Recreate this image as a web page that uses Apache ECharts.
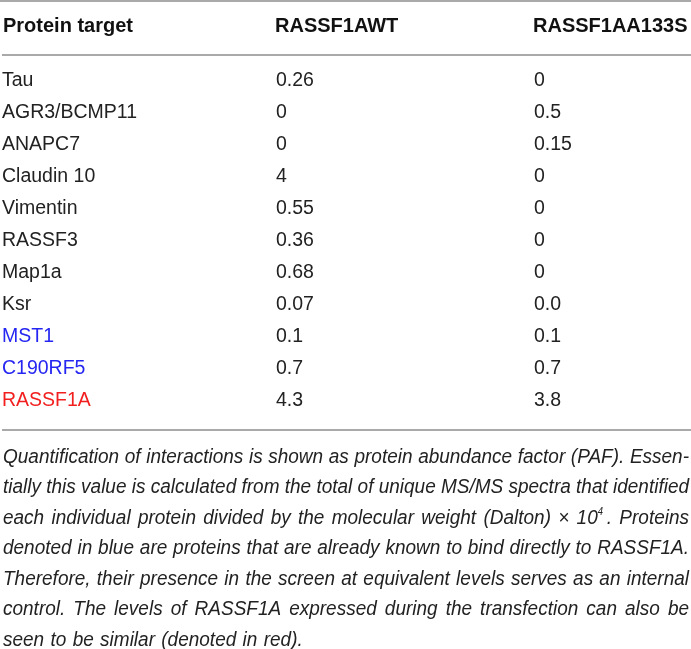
<!DOCTYPE html>
<html>
<head>
<meta charset="utf-8">
<script src="https://cdn.jsdelivr.net/npm/echarts@6/dist/echarts.min.js"></script>
<style>
  html, body { margin: 0; padding: 0; background: #fff; }
  #container { width: 691px; height: 649px; }
</style>
</head>
<body>
<div id="container"></div>
<script>
// table content
var headers = ["Protein target", "RASSF1AWT", "RASSF1AA133S"];
var proteins = ["Tau", "AGR3/BCMP11", "ANAPC7", "Claudin 10", "Vimentin", "RASSF3",
  "Map1a", "Ksr", "MST1", "C190RF5", "RASSF1A"];
var wtValues = ["0.26", "0", "0", "4", "0.55", "0.36", "0.68", "0.07", "0.1", "0.7", "4.3"];
var mutValues = ["0", "0.5", "0.15", "0", "0", "0", "0", "0.0", "0.1", "0.7", "3.8"];
var knownBinders = ["MST1", "C190RF5"];   // shown in blue
var controls = ["RASSF1A"];               // shown in red

var captionLines = [
  "Quantification of interactions is shown as protein abundance factor (PAF). Essen-",
  "tially this value is calculated from the total of unique MS/MS spectra that identified",
  "each individual protein divided by the molecular weight (Dalton) \u00d7 10^4. Proteins",
  "denoted in blue are proteins that are already known to bind directly to RASSF1A.",
  "Therefore, their presence in the screen at equivalent levels serves as an internal",
  "control. The levels of RASSF1A expressed during the transfection can also be",
  "seen to be similar (denoted in red)."
];

var FONT = "'Liberation Sans', Arial, Helvetica, sans-serif";
var TEXT = "#222";
var BLUE = "#2626f2";
var RED = "#f21f1f";
var RULE = "#a9a9a9";

var colX = [3, 275, 533];
var headerY = 26;
var rowY0 = 81, rowStep = 32;
var capY0 = 457, capStep = 30.5;
var capLeft = 3, capRight = 689;

var measureCtx = document.createElement("canvas").getContext("2d");
function textWidth(str, font) {
  measureCtx.font = font;
  return measureCtx.measureText(str).width;
}

var graphics = [];

function rule(y) {
  graphics.push({
    type: "rect",
    shape: { x: y < 10 ? 0 : 2, y: y - 1, width: 691, height: 2 },
    style: { fill: RULE },
    silent: true
  });
}
rule(1);
rule(55);
rule(430);

headers.forEach(function (h, i) {
  graphics.push({
    type: "text",
    x: colX[i], y: headerY,
    style: { text: h, fontFamily: FONT, fontSize: 20, fontWeight: "bold", fill: "#111",
      align: "left", verticalAlign: "middle" }
  });
});

proteins.forEach(function (p, i) {
  var y = rowY0 + rowStep * i;
  var c = knownBinders.indexOf(p) >= 0 ? BLUE : (controls.indexOf(p) >= 0 ? RED : TEXT);
  [p, wtValues[i], mutValues[i]].forEach(function (t, j) {
    graphics.push({
      type: "text",
      x: colX[j] + (j === 0 ? -1 : 1), y: y,
      style: { text: t, fontFamily: FONT, fontSize: 19.5, fill: j === 0 ? c : TEXT,
        align: "left", verticalAlign: "middle" }
    });
  });
});

// caption, justified, glyphs narrowed to fit
var capSize = 20;
var capFont = "italic " + capSize + "px " + FONT;
var supFont = "italic 10px " + FONT;
function tokenInfo(tok) {
  var m = tok.match(/^(.*)\^(\d)(.*)$/);
  if (!m) return { base: tok, w: textWidth(tok, capFont) };
  var wb = textWidth(m[1], capFont), ws = textWidth(m[2], supFont), wt = textWidth(m[3], capFont);
  return { base: m[1], sup: m[2], tail: m[3], wb: wb, ws: ws, w: wb + ws + 4 + wt };
}
var spaceW = textWidth(" ", capFont);
var lines = captionLines.map(function (l) {
  var toks = l.split(" ").map(tokenInfo);
  var sum = 0;
  toks.forEach(function (t) { sum += t.w; });
  return { toks: toks, sum: sum, natural: sum + spaceW * (toks.length - 1) };
});
var scale = 1;
lines.forEach(function (l, k) {
  if (k < lines.length - 1) scale = Math.min(scale, (capRight - capLeft) / l.natural);
});

lines.forEach(function (l, k) {
  var y = capY0 + capStep * k;
  var last = k === lines.length - 1;
  var gap = last ? spaceW * scale * 1.2 :
    ((capRight - capLeft) - l.sum * scale) / (l.toks.length - 1);
  var x = capLeft;
  l.toks.forEach(function (t) {
    graphics.push({
      type: "text", x: x, y: y, scaleX: scale,
      style: { text: t.base, fontFamily: FONT, fontSize: capSize, fontStyle: "italic",
        fill: TEXT, align: "left", verticalAlign: "middle" }
    });
    if (t.sup) {
      graphics.push({
        type: "text", x: x + t.wb * scale, y: y - 6, scaleX: scale,
        style: { text: t.sup, fontFamily: FONT, fontSize: 10, fontStyle: "italic",
          fill: TEXT, align: "left", verticalAlign: "middle" }
      });
      graphics.push({
        type: "text", x: x + (t.wb + t.ws + 4) * scale, y: y, scaleX: scale,
        style: { text: t.tail, fontFamily: FONT, fontSize: capSize, fontStyle: "italic",
          fill: TEXT, align: "left", verticalAlign: "middle" }
      });
    }
    x += t.w * scale + gap;
  });
});

var dom = document.getElementById("container");
var myChart = echarts.init(dom, null, { renderer: "canvas" });
var option = {
  backgroundColor: "#fff",
  animation: false,
  graphic: { elements: graphics }
};
myChart.setOption(option);
window.addEventListener("resize", myChart.resize);
</script>
</body>
</html>
